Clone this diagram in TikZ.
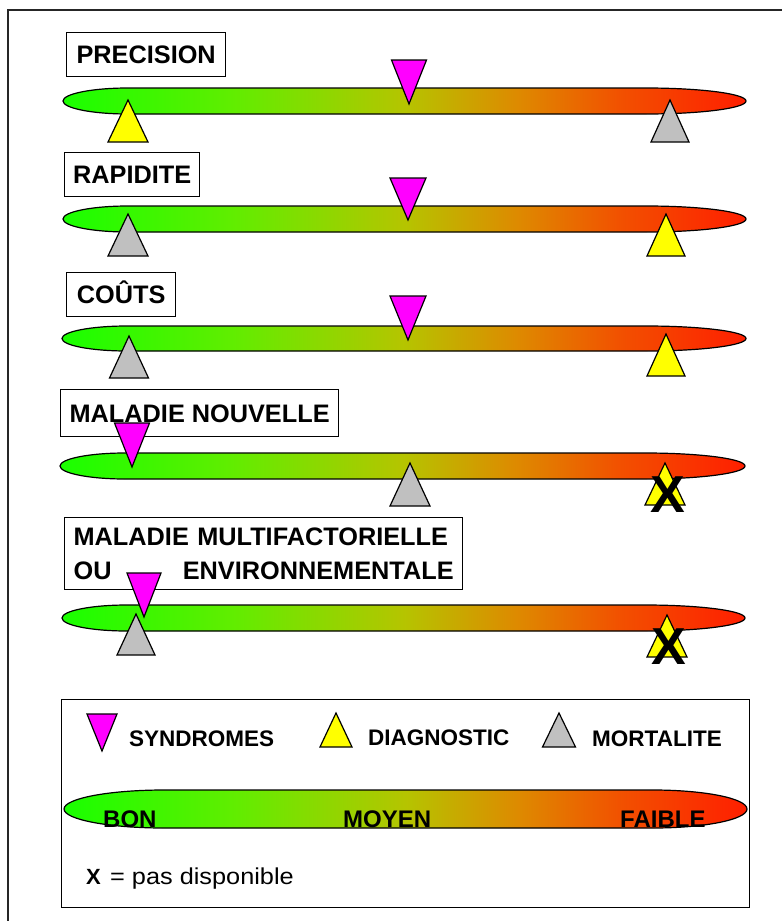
\documentclass[tikz,border=0pt]{standalone}
\usepackage{fontspec}
\setmainfont{Liberation Sans}
\newfontfamily\widefont[FakeStretch=1.1]{Liberation Sans}
\definecolor{tgray}{RGB}{192,192,192}
\definecolor{tmag}{RGB}{255,0,255}
\definecolor{tyel}{RGB}{255,255,0}
\pgfdeclarehorizontalshading{bargrad}{100bp}{rgb(0bp)=(0.1,1,0); rgb(25bp)=(0.1,1,0); rgb(37.5bp)=(0.38,0.93,0); rgb(50bp)=(0.71,0.77,0); rgb(58.3bp)=(0.87,0.54,0); rgb(66bp)=(0.95,0.31,0); rgb(75bp)=(1,0.12,0); rgb(100bp)=(1,0.12,0)}
\newcommand\gradbar[6]{\shadedraw[bar] ({#1+#5},#3) -- ({#2-#6},#3) arc[start angle=-90,end angle=90,x radius=#6,y radius={(#4-#3)/2}] -- ({#1+#5},#4) arc[start angle=90,end angle=270,x radius=#5,y radius={(#4-#3)/2}] -- cycle;}
\newcommand\uptri[5]{\draw[tri, fill=#1] (#2,#3) -- ({#2-#4},{#3+#5}) -- ({#2+#4},{#3+#5}) -- cycle;}
\newcommand\dntri[4]{\draw[tri, fill=tmag] ({#1-#3},#2) -- ({#1+#3},#2) -- (#1,{#2+#4}) -- cycle;}
\begin{document}
\begin{tikzpicture}[x=1pt,y=-1pt,
  lblbase/.style={draw=black, line width=1.3pt, fill=white, inner sep=0pt, anchor=north west,
    font=\fontsize{25.3}{34}\selectfont\bfseries},
  lbl/.style={lblbase, text height=18pt, text depth=0pt},
  tri/.style={draw=black, line width=1.2pt, line join=miter},
  bar/.style={shading=bargrad, draw=black, line width=1.2pt},
  leg/.style={font=\fontsize{22.5}{27}\selectfont\bfseries, anchor=base west, inner sep=0pt},
  bartxt/.style={font=\fontsize{24}{28}\selectfont\bfseries, anchor=base west, inner sep=0pt},
  na/.style={font=\fontsize{52}{60}\selectfont\bfseries, anchor=base, inner sep=0pt}]
\useasboundingbox (0,0) rectangle (782,921);
\fill[white] (0,0) rectangle (782,921);
% outer frame
\draw[line width=1.3pt, draw=black!85] (8,921) -- (8,10) -- (782,10);

% labels
\node[lbl, minimum width=159pt, minimum height=44pt] (l1) at (66,32) {PRECISION};
\node[lbl, minimum width=135pt, minimum height=44pt] (l2) at (64,152) {RAPIDITE};
\node[lbl, minimum width=109pt, minimum height=44pt] (l3) at (66,272) {COÛTS};
\node[lbl, minimum width=278pt, minimum height=47pt] (l4) at (60,389) {MALADIE NOUVELLE};
\node[lblbase, minimum width=398pt, minimum height=72pt, text width=380pt, align=left] (l5) at (64,517)
  {MALADIE MULTIFACTORIELLE\\OU\hskip 0pt plus 1fill ENVIRONNEMENTALE};

% row 1
\gradbar{63}{746}{88}{114}{65}{100}
\uptri{tyel}{128}{100}{20}{42}
\uptri{tgray}{670}{100}{19}{42}
\dntri{409}{60}{17.5}{44}
% row 2
\gradbar{63}{746}{206}{232}{65}{100}
\uptri{tgray}{128}{214}{20}{42}
\uptri{tyel}{666}{214}{19}{42}
\dntri{408}{178}{18}{42}
% row 3
\gradbar{62}{746}{326}{351}{65}{100}
\uptri{tgray}{129}{336}{19.5}{42}
\uptri{tyel}{666}{334}{19}{42}
\dntri{408}{296}{18}{44}
% row 4
\gradbar{60}{745}{453}{479}{65}{100}
\uptri{tgray}{410}{463}{20}{43}
\uptri{tyel}{665}{463}{20}{42}
\dntri{132}{423}{17.5}{44}
\node[na] (x4) at (667.5,512) {X};
% row 5
\gradbar{62}{745}{605}{631}{65}{100}
\uptri{tgray}{136}{614}{19}{41}
\dntri{144}{573}{17}{44}
\uptri{tyel}{667}{615}{20}{42}
\node[na] (x5) at (669,664) {X};

% legend
\node[draw=black, line width=1.3pt, minimum width=688pt, minimum height=208pt, anchor=north west, inner sep=0pt] (legend) at (61,699) {};
\dntri{102}{714}{15}{37}
\node[leg] (sy) at (129,746) {SYNDROMES};
\uptri{tyel}{336}{713}{16}{34}
\node[leg] (di) at (368,745) {DIAGNOSTIC};
\uptri{tgray}{559}{713}{16.5}{34}
\node[leg] (mo) at (592,746) {MORTALITE};
\gradbar{64}{747}{790}{828}{100}{94}
\node[bartxt] (bon) at (103,827) {BON};
\node[bartxt] (moy) at (343,827) {MOYEN};
\node[bartxt] (fai) at (620,827) {FAIBLE};
\node[anchor=base west, inner sep=0pt, font=\fontsize{22}{26}\selectfont\bfseries] (xl) at (86,884) {X};
\node[anchor=base west, inner sep=0pt, font=\fontsize{23}{27}\selectfont\widefont] (pd) at (110,884) {= pas disponible};
\end{tikzpicture}
\end{document}
